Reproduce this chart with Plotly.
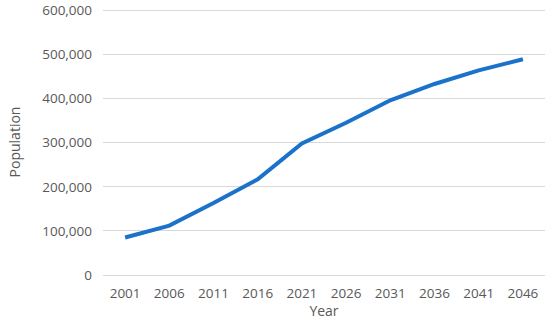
import plotly.graph_objects as go

years = ["2001", "2006", "2011", "2016", "2021", "2026", "2031", "2036", "2041", "2046"]
population = [85000, 112000, 163000, 217000, 298000, 345000, 396000, 433000, 464000, 489000]
y_ticks = [0, 100000, 200000, 300000, 400000, 500000, 600000]
y_tick_labels = ["0", "100,000", "200,000", "300,000", "400,000", "500,000", "600,000"]

grey = "#595959"
font_family = "Open Sans, Liberation Sans, sans-serif"

fig = go.Figure()
fig.add_trace(go.Scatter(
    x=years, y=population, mode="lines",
    line=dict(color="#1a72c9", width=4),
    hoverinfo="x+y",
))

fig.update_layout(
    width=550, height=332,
    margin=dict(l=103, r=5, t=9, b=57),
    paper_bgcolor="white", plot_bgcolor="white",
    showlegend=False,
    font=dict(family=font_family, color=grey, size=14),
    xaxis=dict(
        type="category", range=[-0.5, 9.5], automargin=False,
        showgrid=False, showline=False, zeroline=False,
        ticks="", tickfont=dict(size=13.5, color=grey),
        ticklabelstandoff=8,
        title=dict(text="Year", font=dict(size=14, color=grey), standoff=5),
    ),
    yaxis=dict(
        range=[0, 603000], tickvals=y_ticks, ticktext=y_tick_labels,
        automargin=False,
        showgrid=True, gridcolor="#d9d9d9", gridwidth=1,
        zeroline=True, zerolinecolor="#d9d9d9", zerolinewidth=1,
        showline=False, ticks="", ticklen=0,
        ticklabelstandoff=10,
        tickfont=dict(size=13.5, color=grey),
        title=dict(text="Population", font=dict(size=14, color=grey), standoff=18),
    ),
)

fig.write_html("out.html", config={"displayModeBar": False},
               post_script="document.body.style.margin='0';")
